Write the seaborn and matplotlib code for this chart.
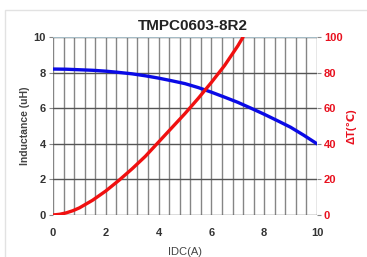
import matplotlib
matplotlib.use('Agg')
import matplotlib.pyplot as plt
import seaborn as sns
import pandas as pd
from matplotlib.patches import Rectangle

# Inductance curve (uH) vs DC current (A)
idc_l = [0, 0.5, 1, 1.5, 2, 2.5, 3, 3.5, 4, 4.5, 5, 5.5, 6, 6.5, 7, 7.5, 8, 8.5, 9, 9.5, 10]
inductance = [8.2, 8.19, 8.16, 8.13, 8.08, 8.01, 7.93, 7.82, 7.69, 7.54, 7.38,
              7.16, 6.9, 6.62, 6.33, 6.0, 5.66, 5.3, 4.93, 4.48, 4.0]

# Temperature rise curve (degC) vs DC current (A)
idc_t = [0, 0.25, 0.5, 0.75, 1, 1.5, 2, 2.5, 3, 3.5, 4, 4.5, 5, 5.5, 6, 6.5, 7, 7.2]
delta_t = [0, 0.4, 1.2, 2.4, 4, 8.3, 13.5, 19.5, 26, 33, 41, 49, 57, 65.5, 74.5, 84, 95, 100]

title = 'TMPC0603-8R2'
x_ticks = [0, 2, 4, 6, 8, 10]
y_ticks = [0, 2, 4, 6, 8, 10]
t_ticks = [0, 20, 40, 60, 80, 100]

sns.set_style('white')
plt.rcParams['font.family'] = ['Liberation Sans', 'DejaVu Sans']

df_l = pd.DataFrame({'IDC': idc_l, 'L': inductance})
df_t = pd.DataFrame({'IDC': idc_t, 'T': delta_t})

fig = plt.figure(figsize=(3.67, 2.57), dpi=100)
ax = fig.add_axes([53 / 367, 1 - 215 / 257, 264 / 367, 178 / 257])

# faint outer frame
fig.patches.append(Rectangle((5 / 367, -0.1), 1.2, 1 - 10 / 257 + 0.1, transform=fig.transFigure,
                             fill=False, edgecolor='#e2e2e2', linewidth=1))

ax.set_xlim(0, 10)
ax.set_ylim(0, 10)
ax.set_xticks(x_ticks)
ax.set_yticks(y_ticks)
for v in [i * 0.4 for i in range(26)]:
    ax.axvline(v, color='#858585', linewidth=1, zorder=1)
for v in y_ticks:
    ax.axhline(v, color='#555555', linewidth=1, zorder=1)
ax.axhline(10, color='#b5d0dc', linewidth=1.2, zorder=2)
for s in ax.spines.values():
    s.set_visible(False)

sns.lineplot(data=df_l, x='IDC', y='L', ax=ax, color='#0a0ae6', linewidth=2.4, zorder=3)

ax2 = ax.twinx()
ax2.set_ylim(0, 100)
ax2.set_yticks(t_ticks)
for s in ax2.spines.values():
    s.set_visible(False)
sns.lineplot(data=df_t, x='IDC', y='T', ax=ax2, color='#f01010', linewidth=2.4, zorder=3)
ax2.set_xlim(0, 10)

ax.tick_params(axis='x', which='both', length=0, pad=9, labelsize=8, labelcolor='#333333')
ax.tick_params(axis='y', length=3, width=0.8, color='#888888', pad=2, labelsize=8, labelcolor='#333333')
ax2.tick_params(axis='y', length=3, width=0.8, color='#888888', pad=2, labelsize=8, labelcolor='#e8101e')
for lab in ax.get_xticklabels() + ax.get_yticklabels() + ax2.get_yticklabels():
    lab.set_fontweight('bold')

ax.set_title(title, fontsize=11, fontweight='bold', color='#222222', pad=5, x=0.53)
ax.set_xlabel('IDC(A)', fontsize=8, color='#444444', labelpad=7)
ax.set_ylabel('Inductance (uH)', fontsize=7.5, fontweight='bold', color='#444444', labelpad=3)
ax2.set_ylabel('ΔT(℃)', fontsize=8, fontweight='bold', color='#e8101e', labelpad=3)

fig.savefig('out.png', dpi=100)
